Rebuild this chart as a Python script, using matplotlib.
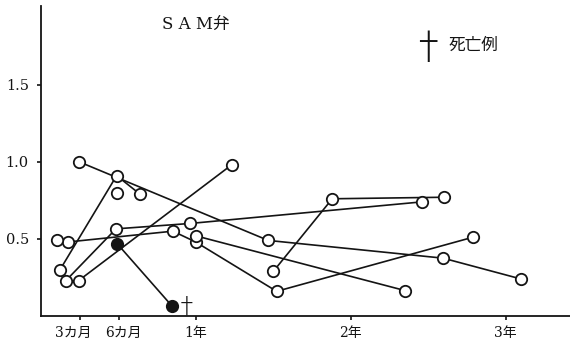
import matplotlib
matplotlib.use("Agg")
import matplotlib.pyplot as plt
import matplotlib.transforms as mtransforms

plt.rcParams['font.family'] = ['DejaVu Serif', 'Noto Sans CJK JP']

# follow-up series: months after operation, value
s1_m = [2.92, 17.6, 31.16, 37.2]
s1_v = [1.0, 0.49, 0.375, 0.24]
s2_m = [1.45, 5.84, 7.65]
s2_v = [0.30, 0.91, 0.79]
s3_m = [1.91, 5.79, 11.55, 29.53]
s3_v = [0.23, 0.565, 0.60, 0.74]
s4_m = [2.9, 14.76]
s4_v = [0.23, 0.98]
s5_m = [2.07, 10.2, 11.97, 18.25, 33.44]
s5_v = [0.48, 0.55, 0.48, 0.16, 0.51]
s6_m = [11.97, 28.2]
s6_v = [0.52, 0.165]
s7_m = [18.0, 22.56, 31.24]
s7_v = [0.29, 0.76, 0.77]
single_m = [1.24, 5.84]
single_v = [0.49, 0.80]
# fatal case
dead_m = [5.87, 10.13]
dead_v = [0.47, 0.065]

series = [(s1_m, s1_v), (s2_m, s2_v), (s3_m, s3_v), (s4_m, s4_v),
          (s5_m, s5_v), (s6_m, s6_v), (s7_m, s7_v)]

xtick_pos = [3, 6, 12, 24, 36]
xtick_lab = ['3カ月', '6カ月', '1年', '2年', '3年']
ytick_pos = [0.5, 1.0, 1.5]
ytick_lab = ['0.5', '1.0', '1.5']

ink = '#141414'
dagger_font = 'Noto Sans CJK JP'

fig = plt.figure(figsize=(5.7, 3.46), dpi=100)
ax = fig.add_axes([0.0725, 0.0867, 0.9275, 0.896])

# lines first, then all markers on top so circles hide the lines
for m, v in series:
    ax.plot(m, v, color=ink, lw=1.2, zorder=2)
ax.plot(dead_m, dead_v, color=ink, lw=1.2, zorder=2)

for m, v in series + [(single_m, single_v)]:
    ax.plot(m, v, ls='none', marker='o', ms=8.2, mfc='white', mec=ink,
            mew=1.3, zorder=3)
ax.plot(dead_m, dead_v, ls='none', marker='o', ms=8.2, mfc=ink, mec=ink,
        mew=1.3, zorder=3)

ax.annotate('†', (dead_m[-1], dead_v[-1]), xytext=(10.5, -1),
            textcoords='offset points', ha='center', va='center',
            fontsize=17, color=ink, family=dagger_font, weight='light')

ax.set_xlim(0, 41)
ax.set_ylim(0, 2.01)

ax.spines['top'].set_visible(False)
ax.spines['right'].set_visible(False)
ax.spines['left'].set_linewidth(1.3)
ax.spines['bottom'].set_linewidth(1.3)
ax.spines['left'].set_color(ink)
ax.spines['bottom'].set_color(ink)

ax.set_yticks(ytick_pos)
ax.set_yticklabels(ytick_lab, fontsize=10.5, color=ink)
ax.set_xticks(xtick_pos)
ax.set_xticklabels(xtick_lab, fontsize=10, color=ink)
ax.tick_params(axis='both', direction='out', length=3, width=1.2, color=ink)
ax.tick_params(axis='x', pad=4)
ax.tick_params(axis='y', pad=6)

# nudge the crowded month labels apart
shifts = [-7, 5, 0, 0, 0]
for lab, dx in zip(ax.get_xticklabels(), shifts):
    lab.set_transform(lab.get_transform() +
                      mtransforms.ScaledTranslation(dx / 100, 0, fig.dpi_scale_trans))

ax.text(0.293, 0.94, 'S A M弁', transform=ax.transAxes, ha='center',
        va='center', fontsize=12, color=ink)
ax.text(0.731, 0.862, '†', transform=ax.transAxes, ha='center',
        va='center', fontsize=27, color=ink, family=dagger_font, weight='light')
ax.text(0.77, 0.872, '死亡例', transform=ax.transAxes, ha='left',
        va='center', fontsize=12, color=ink)

fig.savefig('out.png', dpi=100)
